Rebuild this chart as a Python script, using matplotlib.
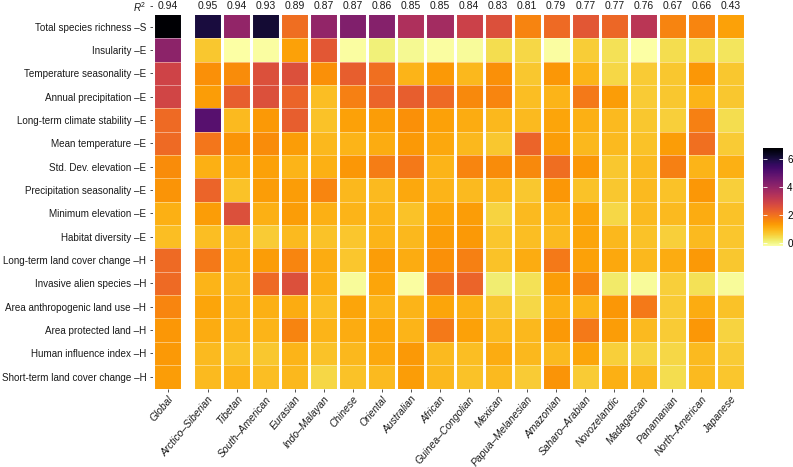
import numpy as np
import matplotlib
matplotlib.use("Agg")
import matplotlib.pyplot as plt
from matplotlib.colors import Normalize

plt.rcParams['font.family'] = ['Liberation Sans', 'DejaVu Sans']
plt.rcParams['mathtext.fontset'] = 'custom'
plt.rcParams['mathtext.rm'] = 'Liberation Sans'
plt.rcParams['mathtext.it'] = 'Liberation Sans:italic'

regions = ['Global', 'Arctico–Siberian', 'Tibetan', 'South–American', 'Eurasian',
           'Indo–Malayan', 'Chinese', 'Oriental', 'Australian', 'African',
           'Guinea–Congolian', 'Mexican', 'Papua–Melanesian', 'Amazonian',
           'Saharo–Arabian', 'Novozelandic', 'Madagascan', 'Panamanian',
           'North–American', 'Japanese']
r2 = [0.94, 0.95, 0.94, 0.93, 0.89, 0.87, 0.87, 0.86, 0.85, 0.85,
      0.84, 0.83, 0.81, 0.79, 0.77, 0.77, 0.76, 0.67, 0.66, 0.43]

predictors = ['Total species richness –S', 'Insularity –E', 'Temperature seasonality –E',
              'Annual precipitation –E', 'Long-term climate stability –E',
              'Mean temperature –E', 'Std. Dev. elevation –E',
              'Precipitation seasonality –E', 'Minimum elevation –E',
              'Habitat diversity –E', 'Long-term land cover change –H',
              'Invasive alien species –H', 'Area anthropogenic land use –H',
              'Area protected land –H', 'Human influence index –H',
              'Short-term land cover change –H']

# relative importance per predictor, columns follow `regions`
richness = [6.75, 6.0, 4.0, 6.1, 2.05, 4.0, 4.3, 4.2, 3.5, 3.7, 2.95, 2.6, 1.7, 2.1, 2.45, 2.15, 3.3, 1.7, 1.65, 1.25]
insularity = [4.1, 0.7, -0.2, -0.15, 1.25, 2.45, -0.15, 0.1, -0.05, -0.15, -0.1, 0.4, 0.5, -0.15, 0.62, 0.36, -0.18, 0.42, 0.42, 0.3]
temp_season = [2.9, 1.5, 1.55, 2.6, 2.6, 1.5, 2.3, 2.0, 0.98, 1.35, 0.93, 1.5, 0.7, 1.4, 0.98, 0.49, 0.66, 0.7, 1.4, 0.7]
annual_prec = [2.85, 1.3, 2.3, 2.6, 2.2, 0.85, 1.75, 2.2, 2.3, 2.1, 1.6, 1.65, 0.85, 0.98, 1.85, 1.3, 0.66, 0.7, 0.98, 0.7]
climate_stab = [2.1, 5.0, 0.9, 1.35, 2.3, 0.8, 1.25, 1.3, 1.5, 1.25, 1.08, 0.93, 0.9, 1.2, 1.03, 0.9, 0.7, 0.6, 1.75, 0.42]
mean_temp = [2.1, 1.9, 1.45, 1.55, 1.3, 0.93, 0.98, 1.08, 1.35, 1.15, 0.93, 0.7, 2.2, 1.3, 0.93, 0.9, 0.8, 1.3, 2.0, 0.66]
sd_elev = [1.55, 1.03, 1.08, 1.25, 0.98, 1.03, 1.4, 1.8, 1.85, 0.98, 1.65, 1.55, 1.6, 2.05, 1.4, 0.7, 0.9, 1.75, 0.98, 1.03]
prec_season = [1.45, 2.2, 0.8, 1.3, 1.3, 1.65, 0.93, 0.9, 1.15, 0.98, 0.9, 0.9, 0.7, 1.4, 0.8, 0.7, 0.9, 0.8, 1.4, 0.6]
min_elev = [1.03, 1.3, 2.6, 1.03, 1.3, 1.03, 0.98, 0.98, 0.8, 1.2, 1.3, 0.55, 0.9, 0.98, 1.2, 0.49, 0.9, 0.9, 1.08, 0.8]
habitat_div = [0.85, 0.85, 0.9, 0.66, 0.9, 0.8, 0.75, 0.98, 0.93, 1.3, 1.35, 0.75, 0.85, 0.9, 1.2, 0.93, 0.8, 0.6, 0.9, 0.75]
lt_landcover = [2.1, 1.85, 1.03, 1.3, 1.65, 1.08, 0.75, 1.3, 1.08, 1.5, 1.75, 0.8, 1.08, 1.85, 1.25, 1.15, 0.93, 1.08, 1.35, 0.7]
invasive = [2.1, 0.98, 0.93, 2.1, 2.6, 1.03, -0.1, 1.2, -0.15, 2.0, 2.2, 0.17, 0.36, 1.3, 1.65, 0.23, -0.1, 0.6, 0.36, -0.1]
anthro_use = [1.65, 1.2, 0.98, 1.03, 1.08, 0.85, 1.2, 0.98, 0.98, 1.2, 1.03, 0.7, 0.49, 1.03, 0.98, 1.4, 1.85, 0.66, 1.08, 0.8]
protected = [1.4, 1.08, 0.98, 0.98, 1.7, 0.98, 1.08, 1.2, 0.98, 1.85, 1.25, 0.9, 0.93, 1.35, 1.85, 1.3, 0.9, 0.66, 1.4, 0.55]
human_infl = [1.35, 0.9, 0.8, 0.7, 0.98, 0.8, 0.93, 1.15, 1.35, 0.9, 0.85, 1.08, 0.93, 0.9, 1.2, 0.6, 0.55, 0.49, 0.9, 0.66]
st_landcover = [1.3, 0.9, 0.98, 0.85, 0.93, 0.49, 0.8, 0.9, 1.3, 0.93, 0.8, 0.9, 0.66, 1.45, 0.66, 1.03, 0.93, 0.42, 0.9, 0.75]

values = np.array([richness, insularity, temp_season, annual_prec, climate_stab,
                   mean_temp, sd_elev, prec_season, min_elev, habitat_div,
                   lt_landcover, invasive, anthro_use, protected, human_infl,
                   st_landcover])

W, H = 793, 467
fig = plt.figure(figsize=(W / 100, H / 100), dpi=100)
ax = fig.add_axes([152.5 / W, (H - 388.5) / H, 593 / W, 388 / H])

norm = Normalize(vmin=-0.2, vmax=6.75)
cmap = plt.get_cmap('inferno_r')

gap = 1.38  # Global sits in its own panel
n_rows = len(predictors)
n_reg = len(regions) - 1
y_edges = np.arange(n_rows + 1) - 0.5
x_centers = np.concatenate([[0.0], gap + np.arange(n_reg)])

mesh = ax.pcolormesh([-0.5, 0.5], y_edges, values[:, :1], cmap=cmap, norm=norm)
reg_edges = gap - 0.5 + np.arange(n_reg + 1)
ax.pcolormesh(reg_edges, y_edges, values[:, 1:], cmap=cmap, norm=norm)

# white gaps between tiles
for xe in np.concatenate([[-0.5, 0.5], reg_edges]):
    ax.axvline(xe, color='white', lw=2.2)
for ye in y_edges[1:-1]:
    ax.hlines(ye, -0.5, 0.5, color='white', lw=0.6, alpha=0.5)
    ax.hlines(ye, reg_edges[0], reg_edges[-1], color='white', lw=0.6, alpha=0.5)

fs = 7.1
r2_y = -0.89
for xc, v in zip(x_centers, r2):
    ax.text(xc, r2_y, f'{v:.2f}', ha='center', va='center', fontsize=7.5, color='#1a1a1a')

ax.set_xlim(-0.52, reg_edges[-1] + 0.02)
ax.set_ylim(n_rows - 0.5, -1.12)

ax.set_xticks(x_centers)
ax.set_xticklabels(regions, rotation=50, ha='right', rotation_mode='anchor',
                   fontstyle='italic', fontsize=7.4)
ax.set_yticks([r2_y] + list(range(n_rows)))
ax.set_yticklabels(['$R^2$'] + predictors, fontsize=fs)
ax.tick_params(length=2.5, width=0.6, color='#333333', pad=2, labelcolor='#1a1a1a')
ax.tick_params(axis='x', pad=1.5)
for s in ax.spines.values():
    s.set_visible(False)

cax = fig.add_axes([763 / W, (H - 246) / H, 20 / W, 98 / H])
cb = fig.colorbar(mesh, cax=cax, ticks=[0, 2, 4, 6])
cb.outline.set_visible(False)
cax.minorticks_off()
cax.yaxis.set_ticks_position('both')
cax.tick_params(direction='in', color='white', length=3, width=0.6,
                labelsize=fs, labelleft=False, labelright=True, pad=3)

fig.savefig('out.png', dpi=100)
